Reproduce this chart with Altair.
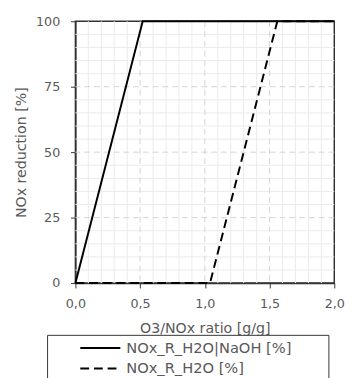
import altair as alt
import pandas as pd

series_names = ["NOx_R_H2O|NaOH [%]", "NOx_R_H2O [%]"]
naoh_x = [0.0, 0.52, 2.0]
naoh_y = [0, 100, 100]
h2o_x = [0.0, 1.04, 1.56, 2.0]
h2o_y = [0, 0, 100, 100]

x_major = [0.0, 0.5, 1.0, 1.5, 2.0]
y_major = [0, 25, 50, 75, 100]
x_major_grid = [0.5, 1.0, 1.5]
y_major_grid = [25, 50, 75]
x_minor = [0.1, 0.2, 0.3, 0.4, 0.6, 0.7, 0.8, 0.9, 1.1, 1.2, 1.3, 1.4, 1.6, 1.7, 1.8, 1.9]
y_minor = [5, 10, 15, 20, 30, 35, 40, 45, 55, 60, 65, 70, 80, 85, 90, 95]

rows = []
for i, (xv, yv) in enumerate(zip(naoh_x, naoh_y)):
    rows.append({"x": xv, "y": yv, "series": series_names[0], "o": i})
for i, (xv, yv) in enumerate(zip(h2o_x, h2o_y)):
    rows.append({"x": xv, "y": yv, "series": series_names[1], "o": i})
df = pd.DataFrame(rows)

FONT = "DejaVu Sans"
TXT = "#595959"
DARK = "#333333"

xscale = alt.Scale(domain=[0, 2], nice=False, zero=False)
yscale = alt.Scale(domain=[0, 100], nice=False)

x_axis = alt.Axis(
    values=x_major,
    labelExpr="replace(format(datum.value, '.1f'), '.', ',')",
    grid=False,
    domainColor=DARK,
    domainWidth=1.5,
    tickColor=DARK,
    tickSize=5,
    labelPadding=10,
    labelFontSize=13,
    labelColor=TXT,
    labelFlush=False,
    title="O3/NOx ratio [g/g]",
    titleFontSize=14.5,
    titleColor=TXT,
    titleFontWeight="normal",
    titleY=51,
    titleBaseline="alphabetic",
)
y_axis = alt.Axis(
    values=y_major,
    grid=False,
    domainColor=DARK,
    domainWidth=1.5,
    tickColor=DARK,
    tickSize=5,
    labelPadding=11,
    labelFontSize=13,
    labelColor=TXT,
    labelFlush=False,
    title="NOx reduction [%]",
    titleFontSize=14.5,
    titleColor=TXT,
    titleFontWeight="normal",
    titleAngle=270,
    titleX=-55,
    titleY=134,
    titleAlign="center",
    titleBaseline="middle",
)

vgrid = alt.Chart(pd.DataFrame({"x": x_minor})).mark_rule(
    color="#ebebeb", strokeWidth=1
).encode(x=alt.X("x:Q", scale=xscale, axis=x_axis))

hgrid = alt.Chart(pd.DataFrame({"y": y_minor})).mark_rule(
    color="#ebebeb", strokeWidth=1
).encode(y=alt.Y("y:Q", scale=yscale, axis=y_axis))

vmajor = alt.Chart(pd.DataFrame({"x": x_major_grid})).mark_rule(
    color="#d4d4d4", strokeWidth=1, strokeDash=[6, 4]
).encode(x=alt.X("x:Q", scale=xscale, axis=x_axis))

hmajor = alt.Chart(pd.DataFrame({"y": y_major_grid})).mark_rule(
    color="#d4d4d4", strokeWidth=1, strokeDash=[6, 4]
).encode(y=alt.Y("y:Q", scale=yscale, axis=y_axis))

lines = alt.Chart(df).mark_line(color="black", strokeWidth=2).encode(
    x=alt.X("x:Q", scale=xscale, axis=x_axis),
    y=alt.Y("y:Q", scale=yscale, axis=y_axis),
    strokeDash=alt.StrokeDash(
        "series:N",
        scale=alt.Scale(domain=series_names, range=[[1, 0], [9, 5]]),
        legend=alt.Legend(
            title=".",
            orient="none",
            legendX=-29,
            legendY=321,
            strokeColor=DARK,
            fillColor="white",
            padding=3,
            symbolType="stroke",
            symbolSize=1681,
            symbolStrokeWidth=2,
            symbolStrokeColor="black",
            clipHeight=21,
            rowPadding=0,
            symbolOffset=30,
            labelOffset=5,
            labelFontSize=15,
            labelColor=TXT,
            labelLimit=400,
            titleOrient="right",
            titleFontSize=2,
            titleColor="white",
            titlePadding=34,
        ),
    ),
    order="o:Q",
)

chart = (
    alt.layer(vgrid, hgrid, vmajor, hmajor, lines)
    .properties(
        width=265,
        height=268,
        autosize=alt.AutoSizeParams(type="none"),
        padding={"left": 69, "top": 9, "right": 12, "bottom": 110},
    )
    .configure(font=FONT)
    .configure_view(stroke=DARK, strokeWidth=1.5)
)

chart.save("out.html", embed_options={"renderer": "svg", "actions": False})
